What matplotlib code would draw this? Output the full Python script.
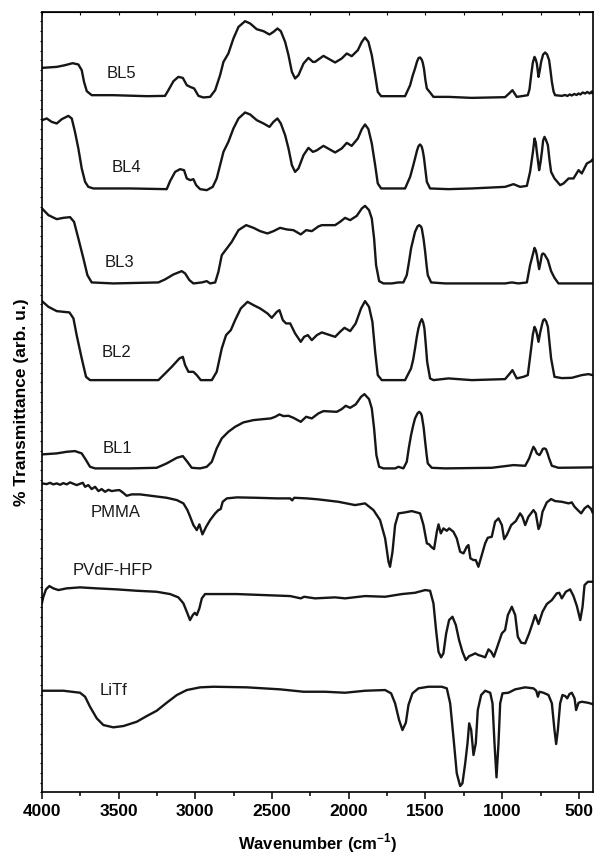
import numpy as np
import matplotlib.pyplot as plt
from matplotlib.ticker import MultipleLocator

plt.rcParams['font.family'] = ['Liberation Sans', 'DejaVu Sans']
plt.rcParams['font.weight'] = 'bold'
plt.rcParams['mathtext.fontset'] = 'custom'
plt.rcParams['mathtext.rm'] = 'Liberation Sans:bold'
plt.rcParams['mathtext.bf'] = 'Liberation Sans:bold'

# FTIR spectra, stacked (wavenumber in cm-1, transmittance in arb. units incl. offset)
bl5_wn = [4000, 3904, 3850, 3800, 3763, 3741, 3726, 3708, 3676, 3535, 3317, 3198, 3176, 3143, 3111,
          3082, 3056, 3034, 3008, 2980, 2948, 2904, 2871, 2839, 2817, 2785, 2752, 2719, 2676, 2643,
          2600, 2556, 2517, 2491, 2465, 2443, 2415, 2393, 2371, 2350, 2328, 2295, 2263, 2234, 2220,
          2165, 2089, 2046, 2013, 1981, 1941, 1915, 1894, 1872, 1850, 1828, 1811, 1789, 1633, 1600,
          1585, 1568, 1555, 1545, 1535, 1525, 1518, 1510, 1500, 1491, 1470, 1448, 1350, 1198, 981, 955, 933, 905,
          861, 833, 822, 811, 800, 789, 781, 774, 763, 755, 746, 733, 720, 707, 694, 685, 676, 665, 655, 611, 590, 575, 560, 546, 530, 515,
          502, 490, 475, 459, 445, 430, 415, 411]
bl5_t = [724.6, 725.6, 727.3, 729.3, 728, 722.3, 710.6, 701.3, 697.3, 697.3, 696.3, 696.6, 702.3, 711.3, 715.6,
         714.6, 707.3, 705.6, 704, 696.6, 695, 695.6, 702.3, 717.3, 730.6, 739, 754, 765.6, 771.3, 769,
         763.3, 761.3, 758, 760.6, 764, 761.3, 750.6, 737.3, 720.6, 714, 717.3, 729, 734.6, 730.6, 730.6,
         736.6, 730, 734, 739, 736.3, 742.3, 750.6, 755, 750.6, 737.3, 717.3, 700.6, 696.3, 696.3, 707.3,
         716, 724, 731, 734.5, 735, 733, 730, 724, 712, 704, 700, 695.6, 695.6, 694.6, 695.3, 699, 702.3, 695.6,
         696.6, 697.3, 703, 717.3, 730, 735.6, 733, 729, 715.6, 722, 730.6, 738, 740, 738, 732.3, 722, 710.6, 701, 697.3, 696.6, 697.5, 696.5, 698, 697, 698.5, 697.5,
         699, 698, 700, 699, 700.5, 699, 701, 699.5]

bl4_wn = [4000, 3969, 3937, 3904, 3871, 3828, 3806, 3785, 3763, 3741, 3719, 3698, 3665, 3426, 3187,
          3165, 3132, 3100, 3074, 3056, 3034, 3013, 2995, 2969, 2926, 2887, 2861, 2839, 2817, 2785,
          2752, 2719, 2676, 2643, 2600, 2556, 2517, 2491, 2465, 2443, 2415, 2393, 2371, 2350, 2328,
          2295, 2263, 2234, 2210, 2165, 2089, 2046, 2013, 1981, 1941, 1915, 1894, 1872, 1850, 1828,
          1811, 1789, 1633, 1600, 1585, 1568, 1555, 1545, 1535, 1525, 1518, 1510, 1500, 1491, 1470, 1350, 1198, 981,
          926, 883, 839, 818, 800, 789, 781, 774, 759, 750, 741, 733, 724, 713, 702, 691, 681, 659, 622, 600, 567, 535, 502, 481,
          448, 420, 411]
bl4_t = [672.3, 674, 670.6, 669, 673.3, 676.6, 674, 660.6, 644, 624, 610.6, 605.6, 604, 604, 603.3,
         611.3, 620.6, 623.3, 622.3, 614, 612.3, 613.3, 607.3, 603.3, 602.3, 605.6, 614, 627.3, 640.6, 650.6,
         664, 674, 680, 678, 672.3, 669, 665.6, 670.6, 674, 669, 657.3, 644, 627.3, 620.6, 624,
         637.3, 644.6, 640.6, 642, 646.6, 640, 644, 649.6, 646.6, 654, 663.3, 668, 663.3, 649, 627.3,
         609, 604, 604, 615.6, 624, 634, 642, 646.5, 648, 646, 642, 635, 622, 610.6, 604, 603.3, 604, 605.6,
         608.3, 605.6, 606.6, 620.6, 640, 654, 650, 640.6, 622.3, 630, 640.6, 652, 655.6, 652, 647.3, 632, 620.6, 614, 607.3, 609, 614, 614, 622.3, 619,
         629, 631.3, 633]

bl3_wn = [4000, 3958, 3904, 3861, 3817, 3791, 3763, 3730, 3704, 3676, 3535, 3241, 3198, 3143, 3089,
          3067, 3039, 3013, 2958, 2926, 2904, 2871, 2850, 2828, 2795, 2763, 2719, 2669, 2621, 2578,
          2530, 2491, 2448, 2404, 2361, 2313, 2278, 2241, 2198, 2176, 2089, 2057, 2024, 1991, 1948,
          1915, 1894, 1868, 1850, 1835, 1822, 1802, 1774, 1720, 1676, 1644, 1622, 1608, 1594, 1580, 1568, 1552,
          1541, 1530, 1524, 1512, 1502, 1492, 1485, 1463, 1372, 981, 937, 894, 839, 818, 800, 789, 781, 774, 759, 750, 741, 733, 724,
          702, 681, 659, 633, 411]
bl3_t = [584, 577.3, 573.3, 574.6, 575.3, 570.6, 554, 534, 517.3, 510, 509, 510, 513, 518, 521.3,
         519, 512.3, 509, 510, 511.3, 509, 510, 520.6, 537.3, 544, 550.6, 562.3, 567.3, 564.6, 561.3,
         559, 561.3, 564.6, 563, 562.3, 558, 562.3, 561.3, 566, 567.3, 567.3, 570.6, 574.6, 572.3, 576.6,
         584, 586.6, 582.3, 574, 554, 527.3, 511.3, 509, 509, 510, 510, 517.3, 530, 544, 553, 560.6, 566,
         567.3, 566, 564, 553, 540.6, 526, 517.3, 510, 509, 509, 510, 509, 510, 527.3, 538, 544.6, 542, 537.3, 523.3, 530, 538, 539, 538,
         532.3, 521.3, 514.6, 509, 509]

bl2_wn = [4000, 3958, 3904, 3821, 3795, 3774, 3741, 3713, 3687, 3241, 3208, 3154, 3104, 3082, 3067,
          3045, 3013, 2991, 2965, 2893, 2861, 2828, 2800, 2769, 2741, 2704, 2660, 2621, 2578, 2530,
          2502, 2469, 2452, 2430, 2409, 2382, 2350, 2313, 2291, 2267, 2241, 2208, 2176, 2089, 2057,
          2028, 1991, 1955, 1920, 1894, 1868, 1846, 1828, 1811, 1785, 1633, 1594, 1580, 1568, 1556, 1546, 1535,
          1524, 1515, 1507, 1498, 1489, 1470, 1448, 1350, 1198, 981, 955, 933, 905, 861, 833, 811, 800, 789, 781, 774,
          763, 752, 741, 733, 724, 713, 702, 681, 659, 611, 546, 481, 437, 411]
bl2_t = [491.3, 485.6, 481.3, 480, 474, 457.3, 434, 415.6, 412.3, 412.3, 417.3, 425.6, 434, 435.6, 427.3,
         420.6, 420.6, 417.3, 412.3, 412.3, 420.6, 444, 457.3, 462.3, 472.3, 484, 490.6, 487.3, 484, 479,
         474.6, 480.6, 482.3, 472.3, 469, 469, 459, 450.6, 455.6, 457.3, 452.3, 457.3, 460, 455.6, 460.6,
         464.6, 461.3, 469, 484, 491.3, 485.6, 470.6, 440.6, 417.3, 412.3, 412.3, 424, 433, 444, 456, 464, 470,
         473.3, 470, 464, 448, 430.6, 414, 412.3, 414, 412.3, 413.3, 418, 422.3, 414, 415.6, 417.3, 444, 458, 465.6, 463, 459,
         450.6, 460, 467.3, 472, 473.3, 471, 465.6, 434, 415.6, 414.3, 414.6, 417.3, 418.3, 417.3]

bl1_wn = [4000, 3904, 3839, 3785, 3741, 3713, 3687, 3654, 3426, 3252, 3187, 3121, 3082, 3056, 3024,
          2969, 2926, 2893, 2861, 2828, 2785, 2741, 2687, 2621, 2556, 2508, 2480, 2452, 2426, 2393,
          2361, 2313, 2278, 2241, 2198, 2165, 2078, 2046, 2020, 1991, 1955, 1920, 1898, 1868, 1850,
          1835, 1820, 1802, 1774, 1698, 1676, 1644, 1622, 1608, 1594, 1580, 1568, 1552, 1541, 1530, 1524, 1512, 1502,
          1492, 1485, 1459, 1372, 1068, 926, 850, 824, 808, 796, 785, 774, 757, 746, 735, 725, 715, 704, 694, 676, 633, 411]
bl1_t = [338, 339, 340.6, 341.3, 339, 332.3, 325.6, 324, 324, 324.6, 329, 334.6, 336.3, 331.3, 324.6,
         324, 325.6, 330.6, 344, 354, 360.6, 365.6, 370, 372.3, 373.3, 374, 375.6, 378, 376.3, 376.6,
         374.6, 370.6, 375.6, 374, 379, 381.3, 380.6, 383.3, 386.6, 384.6, 388, 395.6, 398.3, 393.3, 384,
         364, 337.3, 325.6, 324, 324, 325.6, 324, 330.6, 345, 357.3, 367, 374, 379,
         380.6, 379, 376.6, 365, 350.6, 337, 329, 324.6, 324, 324.6, 327.3, 326.6, 334, 341, 345.6, 343, 339, 337.3, 340, 343.5, 344, 343.3,
         339, 334, 326.6, 324.6, 325]

pmma_wn = [4000, 3969, 3948, 3926, 3904, 3882, 3861, 3839, 3817, 3795, 3774, 3752, 3734, 3719, 3698,
           3676, 3654, 3632, 3611, 3589, 3567, 3545, 3517, 3495, 3474, 3448, 3415, 3361, 3274, 3187,
           3121, 3078, 3052, 3034, 3013, 2991, 2974, 2954, 2930, 2904, 2871, 2850, 2835, 2822, 2795,
           2730, 2600, 2469, 2382, 2369, 2356, 2274, 2198, 2068, 1959, 1894, 1839, 1796, 1763, 1741,
           1731, 1715, 1698, 1676, 1633, 1589, 1535, 1513, 1491, 1476, 1463, 1444, 1426, 1415, 1400,
           1383, 1361, 1346, 1318, 1296, 1274, 1252, 1231, 1220, 1207, 1187, 1172, 1155, 1133, 1111,
           1094, 1068, 1046, 1024, 1002, 987, 970, 941, 911, 883, 868, 850, 829, 796, 781, 763, 752,
           737, 709, 681, 655, 611, 567, 546, 528, 507, 485, 463, 441, 420, 411]
pmma_t = [309, 308.3, 309.6, 308, 309, 307.6, 309.3, 308, 310, 308.6, 307.3, 308.6, 309.6, 305.6, 307.3,
          303.3, 305.6, 301.3, 303.3, 300.6, 302.6, 301.3, 302, 302.3, 300, 296.6, 298, 298, 296.3, 294.6,
          292.3, 289, 282.3, 275.6, 267.3, 262.3, 268, 258, 265.6, 272.3, 279, 282.3, 283.3, 290.6, 294,
          295, 294.6, 294, 294, 292, 294.6, 294, 293, 290.6, 287.3, 289, 282.3, 272.3, 254, 230.6,
          225.6, 240.6, 267.3, 279, 280, 281.3, 279, 267.3, 249, 248, 245.6, 243.3, 260.6, 268, 259,
          264, 261.6, 264, 260.6, 254, 240.6, 239, 245.6, 247.3, 234, 232.3, 232.3, 225.6, 237.3, 249,
          254.6, 255.6, 270.6, 274, 267.3, 253.3, 257.3, 267.3, 271.3, 279, 275.6, 267.3, 275.6, 282.3, 279, 263.3, 267.3,
          280.6, 290, 293.3, 291.3, 290.6, 289, 290, 285.6, 282.3, 279, 284, 286.6, 283.3, 280]

pvdf_wn = [4000, 3991, 3974, 3952, 3926, 3893, 3839, 3752, 3643, 3513, 3382, 3252, 3165, 3111, 3078,
           3052, 3035, 3017, 3004, 2991, 2974, 2958, 2937, 2861, 2730, 2556, 2382, 2313, 2291, 2220,
           2089, 2024, 1894, 1763, 1654, 1568, 1502, 1470, 1448, 1431, 1415, 1398, 1383, 1365, 1346,
           1324, 1302, 1281, 1259, 1237, 1215, 1198, 1176, 1155, 1133, 1111, 1089, 1072, 1054, 1028,
           1002, 981, 963, 937, 915, 898, 876, 850, 824, 802, 785, 763, 737, 709, 676, 644, 628, 611,
           585, 557, 535, 513, 491, 476, 463, 441, 411]
pvdf_t = [189.6, 195.6, 203, 206.3, 204, 202.3, 204, 205, 204, 203, 201.6, 200.6, 198.3, 195, 189,
          179, 172.3, 177.3, 179.6, 177.3, 184, 194, 198.3, 198.3, 198.3, 197.3, 196.3, 194, 195.6, 194,
          195, 194, 196.3, 195.6, 198.3, 199.6, 202.3, 201.6, 189, 162.3, 140.6, 135, 139, 159, 172.3,
          175.6, 167.3, 152.3, 140.6, 132.3, 136.3, 137.3, 139, 137.3, 136.3, 135, 143, 140.6, 135.6, 147.3,
          159, 162.3, 177.3, 185.6, 177.3, 155.6, 149.6, 149, 159, 169, 177.3, 168.3, 180.6, 188.3, 192.3, 199, 199.6, 194,
          200.6, 203, 196.3, 186.3, 172.3, 185.6, 207.3, 210.6, 210.6]

litf_wn = [4000, 3861, 3752, 3719, 3687, 3643, 3600, 3535, 3469, 3382, 3317, 3252, 3187, 3121, 3056,
           2969, 2882, 2665, 2448, 2295, 2155, 2024, 1894, 1763, 1724, 1698, 1672, 1650, 1628, 1611,
           1585, 1546, 1481, 1394, 1361, 1339, 1318, 1296, 1274, 1259, 1241, 1226, 1215, 1202, 1187,
           1172, 1159, 1137, 1111, 1078, 1063, 1050, 1037, 1024, 1013, 998, 959, 915, 850, 796, 778,
           767, 757, 731, 698, 676, 659, 648, 637, 622, 607, 589, 576, 561, 546, 528, 518, 502, 481,
           441, 411]
litf_t = [101.6, 101.6, 99.6, 95.6, 85.6, 74, 67.3, 65, 66.3, 70.6, 76.3, 81.6, 89.6, 97.3, 102.3,
          105, 105.6, 105, 103, 100.6, 100.6, 99.6, 101.6, 102.3, 99, 89, 72.3, 62.3, 69.6, 87.3,
          99, 104, 105.6, 105.6, 104, 89, 55.6, 19, 6.3, 9, 29, 49, 69, 62.3, 37.3,
          49, 82.3, 97.3, 101.6, 99.6, 89, 49, 15, 49, 89, 99, 99.6, 103, 105, 104, 101.6,
          95.6, 100.6, 99.6, 97.3, 89, 62.3, 48.3, 62.3, 89, 97.3, 96.3, 94, 98.3, 99.6, 94, 82.3, 89.6, 90.6,
          89.6, 88.3]

names = ['BL5', 'BL4', 'BL3', 'BL2', 'BL1', 'PMMA', 'PVdF-HFP', 'LiTf']
spectra = [(bl5_wn, bl5_t), (bl4_wn, bl4_t), (bl3_wn, bl3_t), (bl2_wn, bl2_t),
           (bl1_wn, bl1_t), (pmma_wn, pmma_t), (pvdf_wn, pvdf_t), (litf_wn, litf_t)]
# where each name goes (wavenumber, arb. u.)
label_at = [(3576, 719), (3543, 625), (3589, 530), (3609, 440),
            (3602, 344), (3680, 280), (3798, 222), (3622, 102)]

fig = plt.figure(figsize=(5.94, 8.6), dpi=100)
ax = fig.add_axes([0.0707, 0.0787, 0.9268, 0.9077])

for (wn, t), name, (lx, ly) in zip(spectra, names, label_at):
    ax.plot(wn, t, color='#161616', lw=1.7, solid_joinstyle='round')
    ax.text(lx, ly, name, fontsize=12, fontweight='normal', ha='left', va='center', color='#1a1a1a')

ax.set_xlim(4000, 411)
ax.set_ylim(0, 780.6)

ax.xaxis.set_major_locator(MultipleLocator(500))
ax.xaxis.set_minor_locator(MultipleLocator(250))
ax.tick_params(axis='x', which='major', direction='out', length=5, width=1.1, labelsize=12.5, pad=3.5)
ax.tick_params(axis='x', which='minor', direction='out', length=3, width=1.1)
ax.set_yticks(np.arange(0, 781, 9.76))
ax.tick_params(axis='y', which='major', direction='out', length=1.5, width=0.8, labelleft=False)

top = ax.secondary_xaxis('top')
top.xaxis.set_major_locator(MultipleLocator(500))
top.xaxis.set_minor_locator(MultipleLocator(250))
top.tick_params(which='both', direction='in', length=2.5, width=0.8, labeltop=False)

for sp in ax.spines.values():
    sp.set_linewidth(1.2)

ax.set_xlabel(r'Wavenumber (cm$^{\mathbf{-1}}$)', fontsize=12, fontweight='bold', labelpad=9)
ax.set_ylabel('% Transmittance (arb. u.)', fontsize=12.5, fontweight='bold', labelpad=8)

fig.savefig('out.png', dpi=100)
